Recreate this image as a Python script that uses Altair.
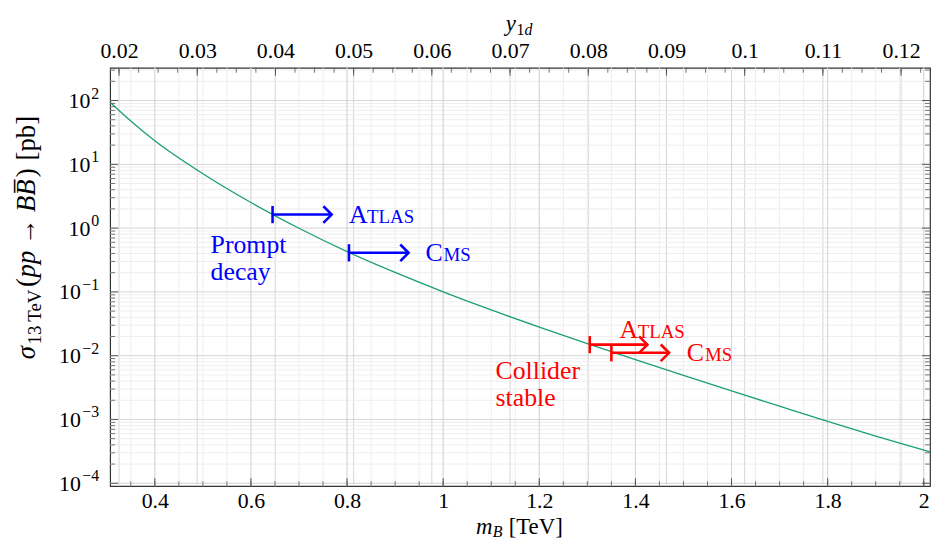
import altair as alt
import pandas as pd

# ---------------- data ----------------
m_B = [0.307, 0.35, 0.4, 0.5, 0.6, 0.7, 0.8, 0.9, 1.0, 1.1, 1.2, 1.3, 1.4, 1.5, 1.6, 1.7, 1.8, 1.9, 2.013]
sigma_pb = [94.1, 47.8, 23.4, 7.12, 2.52, 0.993, 0.428, 0.2017, 0.1004, 0.0521, 0.02805, 0.01548,
            0.00867, 0.00492, 0.00281, 0.001615, 0.000931, 0.000548, 0.000311]

limit_start = [0.645, 0.804, 1.305, 1.350]
limit_end = [0.768, 0.928, 1.425, 1.470]
limit_sigma = [1.63, 0.41, 0.0149, 0.0111]
limit_color = ["#0000ff", "#0000ff", "#ff0000", "#ff0000"]

exp_first = ["A", "C", "A", "C"]
exp_rest = ["TLAS", "MS", "TLAS", "MS"]
exp_m = [0.804, 0.963, 1.367, 1.507]
exp_sigma = [1.63, 0.41, 0.0255, 0.0111]

group_text = ["Prompt", "decay", "Collider", "stable"]
group_m = [0.516, 0.516, 1.109, 1.109]
group_sigma = [0.537, 0.204, 0.00568, 0.00216]
group_color = ["#0000ff", "#0000ff", "#ff0000", "#ff0000"]

x_domain = [0.307, 2.013]
y_domain = [9e-5, 326]
top_domain = [0.01886, 0.1237]

x_major = [0.4, 0.6, 0.8, 1.0, 1.2, 1.4, 1.6, 1.8, 2.0]
x_minor = [round(0.35 + 0.05 * i, 2) for i in range(34)]
y_major = [1e-4, 1e-3, 1e-2, 1e-1, 1, 10, 100]
y_exp_pos = ["2", "1", "0"]
y_exp_pos_val = [100, 10, 1]
y_exp_neg = ["\u22121", "\u22122", "\u22123", "\u22124"]
y_exp_neg_val = [1e-1, 1e-2, 1e-3, 1e-4]
y_minor = [k * 10.0 ** e for e in range(-4, 3) for k in range(2, 10) if k * 10.0 ** e < 326]
top_major = [0.02, 0.03, 0.04, 0.05, 0.06, 0.07, 0.08, 0.09, 0.1, 0.11, 0.12]
top_minor = [round(0.0175 + 0.0025 * i, 4) for i in range(44) if 0.019 < 0.0175 + 0.0025 * i < 0.1237]

# ---------------- style ----------------
W, H = 827, 422
FONT = "Liberation Serif"
LBL = 22
TXT = 26
GRID_MAJ = "#d2d2d2"
GRID_MIN = "#ececec"
TICK = "#555555"

x_axis = alt.Axis(values=x_major, format="~g", title=None, ticks=False, grid=False, domain=False,
                  labelFont=FONT, labelFontSize=LBL, labelColor="black", labelPadding=5)
y_axis = alt.Axis(values=y_major, labels=False, title=None, ticks=False, grid=False, domain=False)
top_axis = alt.Axis(orient="top", values=top_major, format="~g", title=None, ticks=False, grid=False,
                    domain=False, labelFont=FONT, labelFontSize=LBL, labelColor="black", labelPadding=5)

xs = alt.Scale(domain=x_domain, nice=False, zero=False)
ys = alt.Scale(type="log", domain=y_domain, nice=False)
ts = alt.Scale(domain=top_domain, nice=False, zero=False)


def X(f="m"):
    return alt.X(f"{f}:Q", scale=xs, axis=x_axis)


def Y(f="s"):
    return alt.Y(f"{f}:Q", scale=ys, axis=y_axis)


curve_df = pd.DataFrame({"m": m_B, "s": sigma_pb})
lim_df = pd.DataFrame({"m": limit_start, "m2": limit_end, "s": limit_sigma, "c": limit_color})
lim_end_df = pd.DataFrame({"m": limit_end, "s": limit_sigma, "c": limit_color})
exp_df = pd.DataFrame({"m": exp_m, "s": exp_sigma, "a": exp_first, "b": exp_rest, "c": limit_color})
grp_df = pd.DataFrame({"m": group_m, "s": group_sigma, "t": group_text, "c": group_color})
xmaj_df = pd.DataFrame({"m": x_major})
xmin_df = pd.DataFrame({"m": x_minor})
ymaj_df = pd.DataFrame({"s": y_major})
ymin_df = pd.DataFrame({"s": y_minor})
ypos_df = pd.DataFrame({"s": y_exp_pos_val, "e": y_exp_pos})
yneg_df = pd.DataFrame({"s": y_exp_neg_val, "e": y_exp_neg})
tmaj_df = pd.DataFrame({"t": top_major})
tmin_df = pd.DataFrame({"t": top_minor})
one = alt.Data(values=[{"k": 1}])

layers = []
# grids
layers.append(alt.Chart(xmin_df).mark_rule(color=GRID_MIN, strokeWidth=0.9)
              .encode(x=X(), y=alt.value(0), y2=alt.value(H)))
layers.append(alt.Chart(ymin_df).mark_rule(color=GRID_MIN, strokeWidth=0.9)
              .encode(y=Y(), x=alt.value(0), x2=alt.value(W)))
layers.append(alt.Chart(xmaj_df).mark_rule(color=GRID_MAJ, strokeWidth=0.9)
              .encode(x=X(), y=alt.value(0), y2=alt.value(H)))
layers.append(alt.Chart(ymaj_df).mark_rule(color=GRID_MAJ, strokeWidth=0.9)
              .encode(y=Y(), x=alt.value(0), x2=alt.value(W)))
# curve
layers.append(alt.Chart(curve_df).mark_line(color="#1b9e77", strokeWidth=1.3, interpolate="monotone")
              .encode(x=X(), y=Y()))
# limit arrows
layers.append(alt.Chart(lim_df).mark_rule(strokeWidth=2.6)
              .encode(x=X(), x2="m2:Q", y=Y(), color=alt.Color("c:N", scale=None)))
layers.append(alt.Chart(lim_end_df).mark_point(shape="M-1,-1Q-0.3,-0.3,0,0Q-0.3,0.3,-1,1", size=280,
                                                filled=False, strokeWidth=2.6, opacity=1)
              .encode(x=X(), y=Y(), color=alt.Color("c:N", scale=None)))
layers.append(alt.Chart(lim_df).mark_point(shape="M0,-1L0,1", size=300, filled=False,
                                           strokeWidth=2.6, opacity=1)
              .encode(x=X(), y=Y(), color=alt.Color("c:N", scale=None)))
# labels
layers.append(alt.Chart(exp_df).mark_text(font=FONT, fontSize=TXT, align="left", baseline="alphabetic", dy=8.5)
              .encode(x=X(), y=Y(), text="a:N", color=alt.Color("c:N", scale=None)))
layers.append(alt.Chart(exp_df).mark_text(font=FONT, fontSize=19, align="left", baseline="alphabetic",
                                          dy=8.5, dx=18.3)
              .encode(x=X(), y=Y(), text="b:N", color=alt.Color("c:N", scale=None)))
layers.append(alt.Chart(grp_df).mark_text(font=FONT, fontSize=TXT, align="left", baseline="middle")
              .encode(x=X(), y=Y(), text="t:N", color=alt.Color("c:N", scale=None)))
# ticks
layers.append(alt.Chart(xmaj_df).mark_rule(color=TICK, strokeWidth=1)
              .encode(x=X(), y=alt.value(H), y2=alt.value(H - 8)))
layers.append(alt.Chart(xmin_df).mark_rule(color=TICK, strokeWidth=0.8)
              .encode(x=X(), y=alt.value(H), y2=alt.value(H - 5)))
layers.append(alt.Chart(ymaj_df).mark_rule(color=TICK, strokeWidth=1)
              .encode(y=Y(), x=alt.value(0), x2=alt.value(8)))
layers.append(alt.Chart(ymin_df).mark_rule(color=TICK, strokeWidth=0.8)
              .encode(y=Y(), x=alt.value(0), x2=alt.value(5)))
layers.append(alt.Chart(ymaj_df).mark_rule(color=TICK, strokeWidth=1)
              .encode(y=Y(), x=alt.value(W), x2=alt.value(W - 8)))
layers.append(alt.Chart(ymin_df).mark_rule(color=TICK, strokeWidth=0.8)
              .encode(y=Y(), x=alt.value(W), x2=alt.value(W - 5)))
# y tick labels: 10 with superscript exponent
LX = -11
for df, base_dx in ((ypos_df, -9), (yneg_df, -18.5)):
    layers.append(alt.Chart(df).mark_text(font=FONT, fontSize=16, align="right", baseline="alphabetic",
                                          dy=-2, color="black")
                  .encode(y=Y(), x=alt.value(LX), text="e:N"))
    layers.append(alt.Chart(df).mark_text(font=FONT, fontSize=LBL, align="right", baseline="alphabetic",
                                          dy=7.5, dx=base_dx, text="10", color="black")
                  .encode(y=Y(), x=alt.value(LX)))


def txt(text, x, y, size=TXT, style="normal", angle=0, **kw):
    return alt.Chart(one).mark_text(text=text, font=FONT, fontSize=size, fontStyle=style, angle=angle,
                                    align="left", baseline="alphabetic", color="black", **kw
                                    ).encode(x=alt.value(x), y=alt.value(y))


# bottom title m_B [TeV]
bx, by = 369, 470
layers.append(txt("m", bx, by, size=23, style="italic"))
layers.append(txt("B", bx + 17, by + 3, size=16, style="italic"))
layers.append(txt("[TeV]", bx + 33, by, size=23))
# top title y_1d
tx, ty = 399, -37
layers.append(txt("y", tx, ty, size=23, style="italic"))
layers.append(txt("1", tx + 11, ty + 4, size=16))
layers.append(txt("d", tx + 19, ty + 4, size=16, style="italic"))
# y title (rotated, reading upwards)
lx = -76
yy = 294
pieces = [("σ", 27, "italic", 0, 15),
          ("13\u2009TeV", 19, "normal", 6, 58),
          ("(", 27, "normal", 0, 9.5),
          ("pp", 27, "italic", 0, 33),
          ("→", 27, "normal", 0, 33),
          ("BB\u0305", 27, "italic", 0, 35),
          (")", 27, "normal", 0, 17),
          ("[pb]", 27, "normal", 0, 46)]
for t, sz, st, off, w in pieces:
    layers.append(txt(t, lx + off, yy, size=sz, style=st, angle=270))
    yy -= w

main = alt.layer(*layers)

top_grid = alt.Chart(tmaj_df).mark_rule(color=GRID_MAJ, strokeWidth=0.9).encode(
    x=alt.X("t:Q", scale=ts, axis=None), y=alt.value(0), y2=alt.value(H))
top_minor_ticks = alt.Chart(tmin_df).mark_rule(color=TICK, strokeWidth=0.8).encode(
    x=alt.X("t:Q", scale=ts, axis=None), y=alt.value(0), y2=alt.value(5))
top_major_ticks = alt.Chart(tmaj_df).mark_rule(color=TICK, strokeWidth=1).encode(
    x=alt.X("t:Q", scale=ts, axis=top_axis), y=alt.value(0), y2=alt.value(8))

chart = alt.layer(top_grid, main, top_minor_ticks, top_major_ticks).resolve_scale(
    x="independent").properties(
    width=W, height=H,
    autosize=alt.AutoSizeParams(type="none"),
    padding={"left": 103, "top": 58, "right": 2, "bottom": 54},
).configure_view(stroke="#333333", strokeWidth=1.2)

chart.save("out.html", embed_options={"renderer": "svg", "actions": False})
